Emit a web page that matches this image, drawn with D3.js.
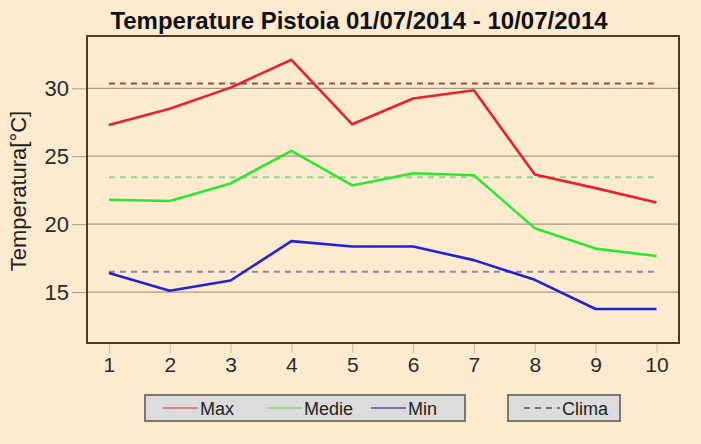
<!DOCTYPE html>
<html>
<head>
<meta charset="utf-8">
<script src="https://cdn.jsdelivr.net/npm/d3@7"></script>
<style>
  body { margin: 0; background: #fdebd0; }
  text { font-family: "Liberation Sans", Arial, sans-serif; }
</style>
</head>
<body>
<div id="chart"></div>
<script>
// data
var days = [1, 2, 3, 4, 5, 6, 7, 8, 9, 10];
var maxT = [27.3, 28.5, 30.05, 32.1, 27.35, 29.25, 29.85, 23.65, 22.65, 21.6];
var medT = [21.8, 21.7, 23.0, 25.4, 22.85, 23.75, 23.6, 19.7, 18.2, 17.65];
var minT = [16.4, 15.1, 15.85, 18.75, 18.35, 18.35, 17.35, 15.9, 13.75, 13.75];
var climaT = [30.35, 23.45, 16.5];
var seriesNames = ['Max', 'Medie', 'Min'];
var yTicks = [15, 20, 25, 30];
var titleText = 'Temperature Pistoia 01/07/2014 - 10/07/2014';
var yLabel = 'Temperatura[°C]';
var climaLabel = 'Clima';

var lineColors = ['#e8222c', '#2ee82e', '#2222d4'];
var climaColors = ['#a04848', '#8ed88a', '#8c84a8'];
var legendColors = ['#e26070', '#80d870', '#5050b8'];

var width = 701, height = 444;
var box = {l: 87, r: 679, t: 36, b: 343};

var svg = d3.select('#chart').append('svg')
  .attr('width', width)
  .attr('height', height);

svg.append('rect').attr('width', width).attr('height', height).attr('fill', '#fdebd0');

var x = d3.scaleLinear().domain([0.64, 10.37]).range([box.l, box.r]);
var y = d3.scaleLinear().domain([11.25, 33.85]).range([box.b, box.t]);

// title
svg.append('text')
  .attr('x', 359).attr('y', 29)
  .attr('text-anchor', 'middle')
  .style('font-size', '24px').style('font-weight', 'bold')
  .attr('fill', '#111')
  .text(titleText);

// y axis label
svg.append('text')
  .attr('transform', 'translate(26,191) rotate(-90)')
  .attr('text-anchor', 'middle')
  .style('font-size', '22px')
  .attr('fill', '#222')
  .text(yLabel);

// gridlines + y ticks
var yAxis = svg.append('g')
  .attr('transform', 'translate(' + box.l + ',0)')
  .call(d3.axisLeft(y).tickValues(yTicks).tickSize(15).tickPadding(3));
yAxis.select('.domain').remove();
yAxis.selectAll('line').attr('stroke', '#a89a88');
yAxis.selectAll('text').style('font-size', '22px').attr('fill', '#2a2a2a');

svg.append('g').selectAll('line')
  .data(yTicks)
  .enter().append('line')
  .attr('x1', box.l).attr('x2', box.r)
  .attr('y1', function(d) { return y(d); })
  .attr('y2', function(d) { return y(d); })
  .attr('stroke', '#a89a88').attr('stroke-width', 1.2);

// x ticks
var xAxis = svg.append('g')
  .attr('transform', 'translate(0,' + box.b + ')')
  .call(d3.axisBottom(x).tickValues(days).tickFormat(d3.format('d')).tickSize(10).tickPadding(4));
xAxis.select('.domain').remove();
xAxis.selectAll('line').attr('stroke', '#c8bcaa');
xAxis.selectAll('text').style('font-size', '21px').attr('fill', '#2a2a2a');

// clima dashed lines
svg.append('g').selectAll('line')
  .data(climaT)
  .enter().append('line')
  .attr('x1', x(days[0])).attr('x2', x(days[days.length - 1]))
  .attr('y1', function(d) { return y(d); })
  .attr('y2', function(d) { return y(d); })
  .attr('stroke', function(d, i) { return climaColors[i]; })
  .attr('stroke-width', 2)
  .attr('stroke-dasharray', '6,5');

// series
var series = [maxT, medT, minT];
var line = d3.line()
  .x(function(d, i) { return x(days[i]); })
  .y(function(d) { return y(d); });

svg.append('g').selectAll('path')
  .data(series)
  .enter().append('path')
  .attr('d', line)
  .attr('fill', 'none')
  .attr('stroke', function(d, i) { return lineColors[i]; })
  .attr('stroke-width', 2.6)
  .attr('stroke-linejoin', 'round');

// plot frame
svg.append('rect')
  .attr('x', box.l).attr('y', box.t)
  .attr('width', box.r - box.l).attr('height', box.b - box.t)
  .attr('fill', 'none')
  .attr('stroke', '#4a3c2c').attr('stroke-width', 2);

// legend
var leg1 = svg.append('g');
leg1.append('rect')
  .attr('x', 145).attr('y', 395).attr('width', 320).attr('height', 26)
  .attr('fill', '#dcdcdc').attr('stroke', '#7a7670').attr('stroke-width', 2);

var legItem = leg1.selectAll('g.item')
  .data(seriesNames)
  .enter().append('g')
  .attr('class', 'item')
  .attr('transform', function(d, i) { return 'translate(' + (163 + i * 104) + ',408)'; });
legItem.append('line')
  .attr('x1', 0).attr('x2', 35).attr('y1', 0).attr('y2', 0)
  .attr('stroke', function(d, i) { return legendColors[i]; })
  .attr('stroke-width', 1.5);
legItem.append('text')
  .attr('x', 37).attr('y', 6.5)
  .style('font-size', '18px')
  .attr('fill', '#222')
  .text(function(d) { return d; });

var leg2 = svg.append('g');
leg2.append('rect')
  .attr('x', 508).attr('y', 395).attr('width', 112).attr('height', 26)
  .attr('fill', '#dcdcdc').attr('stroke', '#7a7670').attr('stroke-width', 2);
leg2.append('line')
  .attr('x1', 524).attr('x2', 560).attr('y1', 408).attr('y2', 408)
  .attr('stroke', '#555').attr('stroke-width', 1.5)
  .attr('stroke-dasharray', '6,5');
leg2.append('text')
  .attr('x', 562).attr('y', 414.5)
  .style('font-size', '18px')
  .attr('fill', '#222')
  .text(climaLabel);
</script>
</body>
</html>
